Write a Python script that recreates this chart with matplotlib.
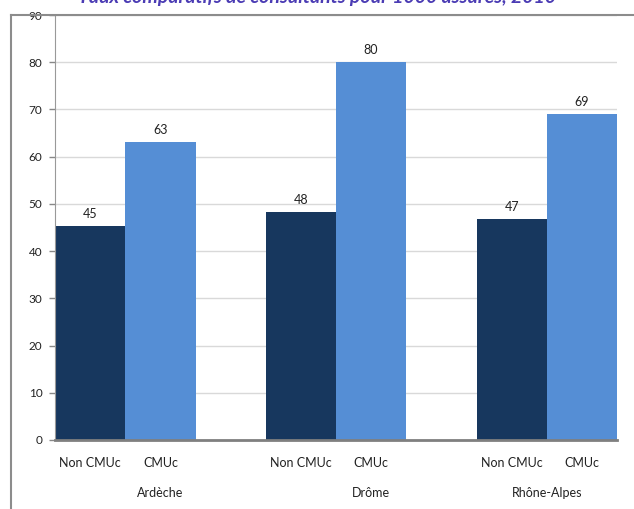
import numpy as np
import matplotlib.pyplot as plt
from matplotlib.lines import Line2D

regions = ["Ardèche", "Drôme", "Rhône-Alpes"]
statuts = ["Non CMUc", "CMUc"]
non_cmuc = [45.3, 48.3, 46.8]
cmuc = [63.2, 80.1, 69.1]

dark = "#17375e"
light = "#558ed5"

plt.rcParams['font.family'] = ['Lato', 'DejaVu Sans']

fig = plt.figure(figsize=(6.34, 5.09), dpi=100)
ax = fig.add_axes([55/634, 1 - 440/509, 562/634, 425/509])

x0 = np.arange(len(regions)) * 3
b1 = ax.bar(x0 + 0.5, non_cmuc, width=1.0, color=dark, zorder=2)
b2 = ax.bar(x0 + 1.5, cmuc, width=1.0, color=light, zorder=2)

for bars, vals in [(b1, non_cmuc), (b2, cmuc)]:
    for r, v in zip(bars, vals):
        ax.text(r.get_x() + r.get_width()/2, v + 1.2, f"{round(v):d}",
                ha="center", va="bottom", fontsize=9, color="#222222")

ax.set_xlim(0, 8)
ax.set_ylim(0, 90)
ax.set_yticks(np.arange(0, 91, 10))
ax.tick_params(axis="y", labelsize=8.5, length=4, width=1, color="#888888",
               pad=5, labelcolor="#222222")
ax.grid(axis="y", color="#d9d9d9", lw=1, zorder=0)
ax.set_axisbelow(True)

# category labels
ax.set_xticks(np.concatenate([x0 + 0.5, x0 + 1.5]))
ax.set_xticklabels(statuts[:1]*3 + statuts[1:]*3, fontsize=9, color="#222222")
ax.tick_params(axis="x", length=0, pad=12)

# group labels (Excel puts them oddly)
group_pos = [1.5, 4.5, 7.0]
for g, p in zip(regions, group_pos):
    ax.text(p, -11.3, g, ha="center", va="center", fontsize=9, color="#222222")

for s in ["top", "right"]:
    ax.spines[s].set_visible(False)
ax.spines["left"].set_color("#999999")
ax.spines["bottom"].set_color("#7f7f7f")
ax.spines["bottom"].set_linewidth(2)
ax.spines["bottom"].set_zorder(3)

# outer frame of the pasted chart
fig.add_artist(Line2D([11/634, 1], [1 - 15/509, 1 - 15/509], color="#8c8c8c", lw=1.5))
fig.add_artist(Line2D([11/634, 11/634], [0, 1 - 15/509], color="#8c8c8c", lw=1.5))

# title of the source document, cut off at the top like in the scan
fig.text(0.5, 1 - 3/509, "Taux comparatifs de consultants pour 1000 assurés, 2010",
         ha="center", va="baseline", fontsize=14, fontweight="bold",
         style="italic", color="#4b3cb4")

fig.savefig("out.png", dpi=100)
